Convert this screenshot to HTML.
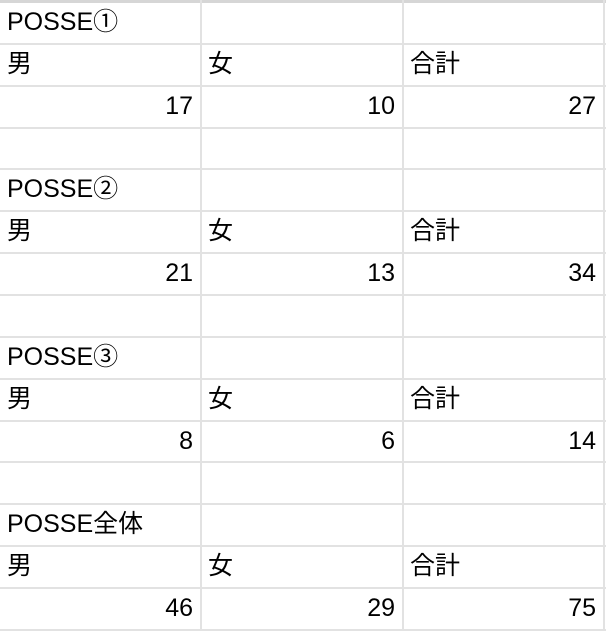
<!DOCTYPE html>
<html><head><meta charset="utf-8">
<style>
html,body{margin:0;padding:0;background:#fff;width:606px;height:632px;overflow:hidden}
body{position:relative;font-family:"Liberation Sans","Noto Sans CJK JP",sans-serif;font-size:25px;color:#000}
.h{position:absolute;left:0;width:606px;height:2px;background:#e2e2e2}
.v{position:absolute;top:0;width:2px;height:630px;background:#e2e2e2}
.c{position:absolute;height:42px;line-height:40px;white-space:nowrap}
.l{text-align:left;padding-left:7px;box-sizing:border-box}
.r{text-align:right;padding-right:7px;box-sizing:border-box}
</style></head><body>
<div class="h" style="top:0;height:3px;background:#d6d6d6"></div>
<script>
const rows=[
["POSSE①","",""],["男","女","合計"],[17,10,27],["","",""],
["POSSE②","",""],["男","女","合計"],[21,13,34],["","",""],
["POSSE③","",""],["男","女","合計"],[8,6,14],["","",""],
["POSSE全体","",""],["男","女","合計"],[46,29,75]];
const colX=[0,201,403,606];
const rowH=41.85, top0=2;
const g=document.body;
for(let i=0;i<rows.length;i++){
  const y=top0+i*rowH;
  const h=document.createElement('div');h.className='h';h.style.top=(y+rowH-1)+'px';
  
  
  g.appendChild(h);
  for(let j=0;j<3;j++){
    const v=rows[i][j];if(v==="")continue;
    const d=document.createElement('div');
    d.className='c '+(typeof v==='number'?'r':'l');
    d.style.top=y+'px';d.style.left=colX[j]+'px';d.style.width=(colX[j+1]-colX[j]-(j<2?1:3))+'px';
    d.textContent=v;
    
    
    g.appendChild(d);
  }
}
[200,402,603].forEach(x=>{const v=document.createElement('div');v.className='v';v.style.left=x+'px';


g.appendChild(v);});
</script>
</body></html>
